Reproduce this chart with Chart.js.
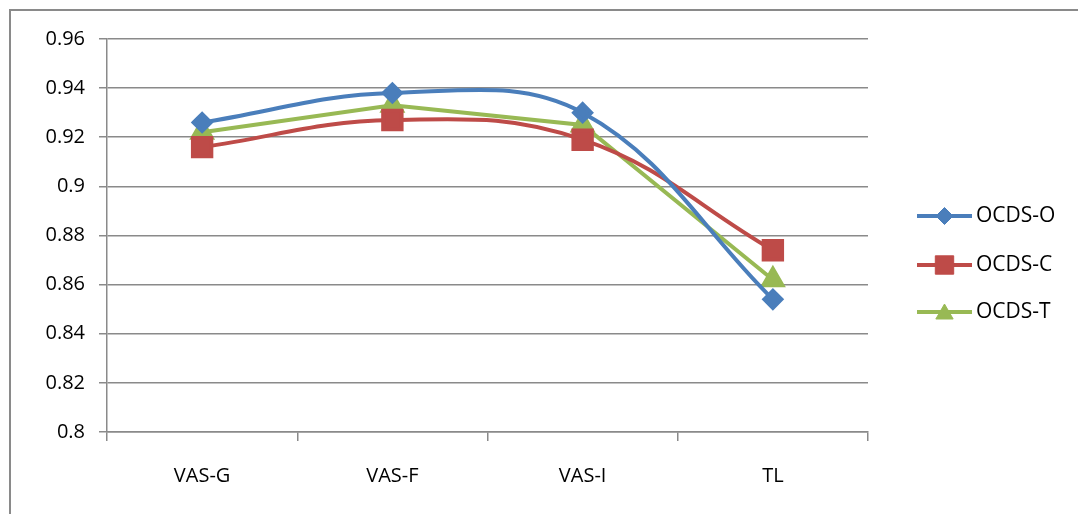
<!DOCTYPE html>
<html>
<head>
<meta charset="UTF-8">
<script src="https://cdn.jsdelivr.net/npm/chart.js@4/dist/chart.umd.min.js"></script>
<style>
html,body{margin:0;padding:0;background:#fff}
#frame{position:absolute;left:9px;top:9px;width:1069px;height:505px;border-top:2px solid #8a8a8a;border-left:2px solid #8a8a8a}
#wrap{position:absolute;left:0;top:0;width:1078px;height:514px}
</style>
</head>
<body>
<div id="frame"></div>
<div id="wrap"><canvas id="c"></canvas></div>
<script>
var categories = ["VAS-G", "VAS-F", "VAS-I", "TL"];
var ocdsO = [0.926, 0.938, 0.930, 0.854];
var ocdsC = [0.916, 0.927, 0.919, 0.874];
var ocdsT = [0.922, 0.933, 0.925, 0.862];
var seriesNames = ["OCDS-O", "OCDS-C", "OCDS-T"];
var yTicks = [0.8, 0.82, 0.84, 0.86, 0.88, 0.9, 0.92, 0.94, 0.96];

var FONT = "'Open Sans', 'Liberation Sans', sans-serif";
var GRID = "#8a8a8a";

// legend on the right: a line with the marker in the middle
var sideLegend = {
  id: "sideLegend",
  afterDraw: function(chart) {
    var ctx = chart.ctx;
    var x0 = 917, x1 = 972, ys = [216, 265, 312];
    chart.data.datasets.forEach(function(ds, i) {
      var y = ys[i];
      ctx.save();
      ctx.strokeStyle = ds.borderColor;
      ctx.lineWidth = 4;
      ctx.beginPath();
      ctx.moveTo(x0, y);
      ctx.lineTo(x1, y);
      ctx.stroke();
      ctx.fillStyle = ds.pointBackgroundColor;
      ctx.strokeStyle = ds.pointBorderColor;
      ctx.lineWidth = 1;
      Chart.helpers.drawPoint(ctx, {pointStyle: ds.pointStyle, radius: ds.pointStyle === "triangle" ? 10 : ds.pointRadius, borderWidth: 1, rotation: 0}, (x0 + x1) / 2, ds.pointStyle === "triangle" ? y + 2 : y);
      ctx.fillStyle = "#000";
      ctx.font = "21px " + FONT;
      ctx.textBaseline = "middle";
      ctx.fillText(ds.label, 976, y);
      ctx.restore();
    });
  }
};

new Chart(document.getElementById("c"), {
  type: "line",
  data: {
    labels: categories,
    datasets: [{
      label: seriesNames[0],
      data: ocdsO,
      borderColor: "#4a7ebb",
      pointBackgroundColor: "#4a7ebb",
      pointBorderColor: "#4a7ebb",
      pointStyle: "rectRot",
      pointRadius: 8.5,
      borderWidth: 4,
      tension: 0.38
    }, {
      label: seriesNames[1],
      data: ocdsC,
      borderColor: "#be4b48",
      pointBackgroundColor: "#be4b48",
      pointBorderColor: "#be4b48",
      pointStyle: "rect",
      pointRadius: 13,
      borderWidth: 4,
      tension: 0.4
    }, {
      label: seriesNames[2],
      data: ocdsT,
      borderColor: "#98b954",
      pointBackgroundColor: "#98b954",
      pointBorderColor: "#98b954",
      pointStyle: "triangle",
      pointRadius: 11,
      borderWidth: 4,
      tension: 0
    }]
  },
  options: {
    responsive: true,
    maintainAspectRatio: false,
    animation: false,
    layout: {padding: {left: 0, right: 210, top: 39, bottom: 0}},
    plugins: {legend: {display: false}, tooltip: {enabled: false}},
    scales: {
      x: {
        offset: true,
        grid: {offset: true, drawOnChartArea: false, drawTicks: true, tickLength: 9, color: GRID, lineWidth: 1.5},
        border: {color: GRID, width: 1.5},
        ticks: {color: "#000", font: {family: FONT, size: 20}, padding: 23},
        afterFit: function(s) { s.height = 82; }
      },
      y: {
        min: 0.8,
        max: 0.96,
        afterBuildTicks: function(s) { s.ticks = yTicks.map(function(v) { return {value: v}; }); },
        grid: {color: GRID, lineWidth: 1.5, tickLength: 8},
        border: {color: GRID, width: 1.5},
        ticks: {color: "#000", font: {family: FONT, size: 20}, padding: 14,
          callback: function(v) { return String(Math.round(v * 100) / 100); }},
        afterFit: function(s) { s.width = 107; }
      }
    }
  },
  plugins: [sideLegend]
});
</script>
</body>
</html>
